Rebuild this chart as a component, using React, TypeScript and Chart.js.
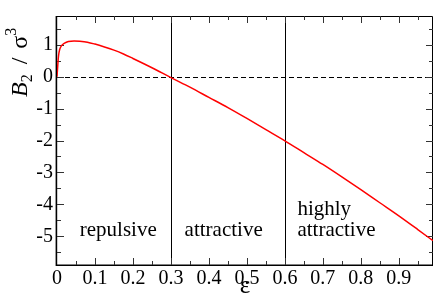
import React, { useEffect, useRef } from "react";
import { Chart, registerables } from "chart.js";

Chart.register(...registerables);

// ---- data ----
const epsilon = [
  0, 0.002, 0.004, 0.007, 0.012, 0.02, 0.03, 0.045, 0.06, 0.08, 0.1, 0.125, 0.15,
  0.175, 0.2, 0.25, 0.3, 0.35, 0.4, 0.45, 0.5, 0.55, 0.6, 0.65, 0.7, 0.75, 0.8,
  0.85, 0.9, 0.95, 0.99,
];
const b2 = [
  0, 0.35, 0.65, 0.85, 0.97, 1.05, 1.1, 1.12, 1.11, 1.08, 1.02, 0.93, 0.83,
  0.71, 0.57, 0.28, -0.03, -0.33, -0.65, -0.97, -1.31, -1.66, -2.01, -2.38,
  -2.75, -3.14, -3.54, -3.95, -4.36, -4.79, -5.14,
];

const xTicks = [0, 0.1, 0.2, 0.3, 0.4, 0.5, 0.6, 0.7, 0.8, 0.9];
const xTickLabels = ["0", "0.1", "0.2", "0.3", "0.4", "0.5", "0.6", "0.7", "0.8", "0.9"];
const xMinorTicks = [0.05, 0.15, 0.25, 0.35, 0.45, 0.55, 0.65, 0.75, 0.85, 0.95];
const yTicks = [-5, -4, -3, -2, -1, 0, 1];
const yTickLabels = ["-5", "-4", "-3", "-2", "-1", "0", "1"];
const yMinorTicks = [-5.5, -4.5, -3.5, -2.5, -1.5, -0.5, 0.5, 1.5];

const xMin = 0;
const xMax = 0.99;
const yMin = -5.9;
const yMax = 1.9;

const dividers = [0.3, 0.6];
const regionLabels = [
  { x: 0.06, y: -5.0, lines: ["repulsive"] },
  { x: 0.336, y: -5.0, lines: ["attractive"] },
  { x: 0.633, y: -5.0, lines: ["highly", "attractive"] },
];

const FONT = "'Liberation Serif', 'DejaVu Serif', serif";

const overlayPlugin = {
  id: "overlay",
  beforeDatasetsDraw(chart: any) {
    const { ctx, chartArea } = chart;
    const xs = chart.scales.x;
    const ys = chart.scales.y;
    const { left, right, top, bottom } = chartArea;
    ctx.save();
    ctx.strokeStyle = "#000";
    ctx.lineWidth = 1;
    // dashed zero line
    const y0 = Math.round(ys.getPixelForValue(0)) + 0.5;
    ctx.setLineDash([5, 3]);
    ctx.beginPath();
    ctx.moveTo(left, y0);
    ctx.lineTo(right, y0);
    ctx.stroke();
    ctx.setLineDash([]);
    // divider lines
    dividers.forEach((d) => {
      const px = Math.round(xs.getPixelForValue(d)) + 0.5;
      ctx.beginPath();
      ctx.moveTo(px, top);
      ctx.lineTo(px, bottom);
      ctx.stroke();
    });
    // frame
    ctx.beginPath();
    ctx.moveTo(left, top + 0.5);
    ctx.lineTo(right - 0.5, top + 0.5);
    ctx.lineTo(right - 0.5, bottom);
    ctx.stroke();
    ctx.lineWidth = 1.6;
    ctx.beginPath();
    ctx.moveTo(left - 0.6, top);
    ctx.lineTo(left - 0.6, bottom + 0.2);
    ctx.lineTo(right, bottom + 0.2);
    ctx.stroke();
    ctx.lineWidth = 1;
    // inward ticks
    const major = 7;
    const minor = 4;
    ctx.strokeStyle = "#333";
    ctx.beginPath();
    const xTick = (v: number, len: number) => {
      const px = Math.round(xs.getPixelForValue(v)) + 0.5;
      ctx.moveTo(px, bottom);
      ctx.lineTo(px, bottom - len);
      ctx.moveTo(px, top);
      ctx.lineTo(px, top + len);
    };
    const yTick = (v: number, len: number) => {
      const py = Math.round(ys.getPixelForValue(v)) + 0.5;
      ctx.moveTo(left, py);
      ctx.lineTo(left + len, py);
      ctx.moveTo(right, py);
      ctx.lineTo(right - len, py);
    };
    xTicks.forEach((v) => v > 0 && xTick(v, major));
    xMinorTicks.forEach((v) => xTick(v, minor));
    yTicks.forEach((v) => yTick(v, major));
    yMinorTicks.forEach((v) => yTick(v, minor));
    ctx.stroke();
    ctx.restore();
  },
  afterDatasetsDraw(chart: any) {
    const { ctx } = chart;
    const xs = chart.scales.x;
    const ys = chart.scales.y;
    ctx.save();
    // region labels
    ctx.fillStyle = "#000";
    ctx.font = `21px ${FONT}`;
    ctx.textAlign = "left";
    ctx.textBaseline = "alphabetic";
    regionLabels.forEach((r) => {
      const px = xs.getPixelForValue(r.x);
      const py = ys.getPixelForValue(r.y);
      const n = r.lines.length;
      r.lines.forEach((line, i) => {
        ctx.fillText(line, px, py - (n - 1 - i) * 21);
      });
    });

    // y axis title: B2 / σ3 (rotated)
    ctx.translate(27, 97);
    ctx.rotate(-Math.PI / 2);
    let cx = 0;
    const part = (txt: string, font: string, dy: number, gapAfter = 0) => {
      ctx.font = font;
      ctx.fillText(txt, cx, dy);
      cx += ctx.measureText(txt).width + gapAfter;
    };
    part("B", `italic 24px ${FONT}`, 0, 0);
    part("2", `16px ${FONT}`, 5, 4);
    part(" / ", `24px ${FONT}`, 0, 3);
    part("σ", `24px ${FONT}`, 0, 0);
    part("3", `16px ${FONT}`, -11, 0);
    ctx.restore();
  },
};

export default function App() {
  const canvasRef = useRef<HTMLCanvasElement | null>(null);

  useEffect(() => {
    document.body.style.margin = "0";
    const canvas = canvasRef.current;
    if (!canvas) return;
    const chart = new Chart(canvas, {
      type: "line",
      data: {
        datasets: [
          {
            data: epsilon.map((e, i) => ({ x: e, y: b2[i] })),
            borderColor: "#ff0000",
            borderWidth: 1.5,
            pointRadius: 0,
            fill: false,
            cubicInterpolationMode: "monotone",
          },
        ],
      },
      options: {
        responsive: false,
        animation: false,
        devicePixelRatio: 1,
        layout: { padding: { top: 1, right: 3, left: 0, bottom: 0 } },
        plugins: { legend: { display: false }, tooltip: { enabled: false } },
        scales: {
          x: {
            type: "linear",
            min: xMin,
            max: xMax,
            grid: { display: false, drawTicks: false },
            border: { display: false },
            afterBuildTicks: (s: any) => {
              s.ticks = xTicks.map((v) => ({ value: v }));
            },
            afterFit: (s: any) => {
              s.height = 36;
            },
            ticks: {
              autoSkip: false,
              maxRotation: 0,
              padding: 2,
              color: "#000",
              font: { family: FONT, size: 20 },
              callback: (_v: any, i: number) => xTickLabels[i],
            },
            title: {
              display: true,
              text: "ε",
              color: "#000",
              font: { family: FONT, size: 25 },
              padding: { top: -8, bottom: 0 },
            },
          },
          y: {
            type: "linear",
            min: yMin,
            max: yMax,
            grid: { display: false, drawTicks: false },
            border: { display: false },
            afterBuildTicks: (s: any) => {
              s.ticks = yTicks.map((v) => ({ value: v }));
            },
            afterFit: (s: any) => {
              s.width = 57;
            },
            ticks: {
              autoSkip: false,
              padding: 4,
              color: "#000",
              font: { family: FONT, size: 20 },
              callback: (_v: any, i: number) => yTickLabels[i],
            },
          },
        },
      },
      plugins: [overlayPlugin],
    } as any);
    return () => chart.destroy();
  }, []);

  return (
    <div style={{ width: 436, height: 301 }}>
      <canvas ref={canvasRef} width={436} height={301} style={{ display: "block" }} />
    </div>
  );
}
